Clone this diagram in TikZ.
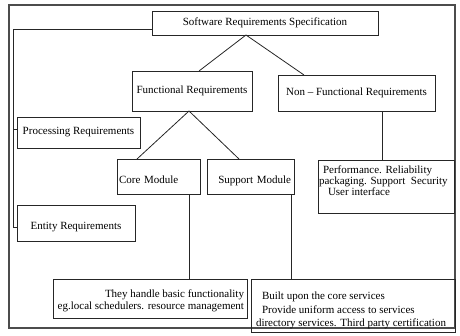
\documentclass[tikz,border=0pt]{standalone}
\usepackage{fontspec}
\setmainfont{Liberation Serif}
\usetikzlibrary{calc}
\begin{document}
\begin{tikzpicture}[x=1pt,y=-1pt,
  box/.style={draw=black!85, line width=0.8pt, inner xsep=0pt, inner ysep=0pt, outer sep=0pt, anchor=north west, font=\fontsize{11}{12}\selectfont},
  wire/.style={draw=black!85, line width=0.8pt},
  frame/.style={draw=black!70, line width=1.2pt}]
\useasboundingbox (0,0) rectangle (460,335);
\draw[frame] (9,5) rectangle (455,328);

\node[box, minimum width=226pt, minimum height=24pt] (srs) at (152,11) {Software Requirements Specification};
\node[box, minimum width=120pt, minimum height=40pt] (func) at (132,71) {Functional Requirements};
\node[box, minimum width=157pt, minimum height=36pt] (nf) at (278,75) {Non – Functional Requirements};
\node[box, minimum width=123pt, minimum height=31pt] (proc) at (17,117) {Processing Requirements};
\node[box, minimum width=83pt, minimum height=35pt, text height=14pt, text depth=0pt, text width=79pt, align=left] (core) at (117,159) {Core Module};
\node[box, minimum width=87pt, minimum height=35pt, text height=14pt, text depth=0pt, text width=81pt, align=right] (supp) at (207,159) {Support Module};
\node[box, minimum width=136pt, minimum height=53pt] (perf) at (318,160) {\parbox[c][53pt][t]{134pt}{\fontsize{11}{11}\selectfont\vspace*{6pt}\hspace*{4pt}Performance. Reliability\\ packaging. Support\ \ Security\\ \hspace*{9pt}User interface}};
\node[box, minimum width=118pt, minimum height=36pt, text height=15.5pt, text depth=2.4pt] (entity) at (17,205) {Entity Requirements};
\node[box, minimum width=194pt, minimum height=39pt, inner xsep=3pt] (b1) at (53,279) {\parbox[c][39pt][t]{188pt}{\raggedleft\vspace*{11pt}They handle basic functionality\\ eg.local schedulers. resource management}};
\node[box, minimum width=204pt, minimum height=53pt, inner xsep=3pt] (b2) at (251,279) {\parbox[c][53pt][t]{198pt}{\fontsize{11}{13.5}\selectfont\vspace*{13pt}\hspace*{8pt}Built upon the core services\\ \hspace*{8pt}Provide uniform access to services\\ \hspace*{2pt}directory services. Third party certification}};

\draw[wire] ([xshift=-19pt]srs.south) -- ([xshift=7pt]func.north);
\draw[wire] ([xshift=-19pt]srs.south) -- ([xshift=-52.5pt]nf.north);
\draw[wire] ([xshift=-3pt]func.south) -- ([xshift=-21.5pt]core.north);
\draw[wire] ([xshift=-3pt]func.south) -- ([xshift=-11.5pt]supp.north);
\draw[wire] ([xshift=25.5pt]nf.south) -- ([xshift=25.5pt]nf.south |- perf.north);
\draw[wire] ([xshift=30.5pt]core.south) -- ([xshift=30.5pt]core.south |- b1.north);
\draw[wire] ([xshift=41pt]supp.south) -- ([xshift=41pt]supp.south |- b2.north);
\draw[wire] ([yshift=-6pt]srs.west) -| ([xshift=-4pt,yshift=-4pt]entity.west) -- ([yshift=-4pt]entity.west);
\draw[wire] ([yshift=3.5pt]proc.west) -- ++(-4pt,0);
\end{tikzpicture}
\end{document}
